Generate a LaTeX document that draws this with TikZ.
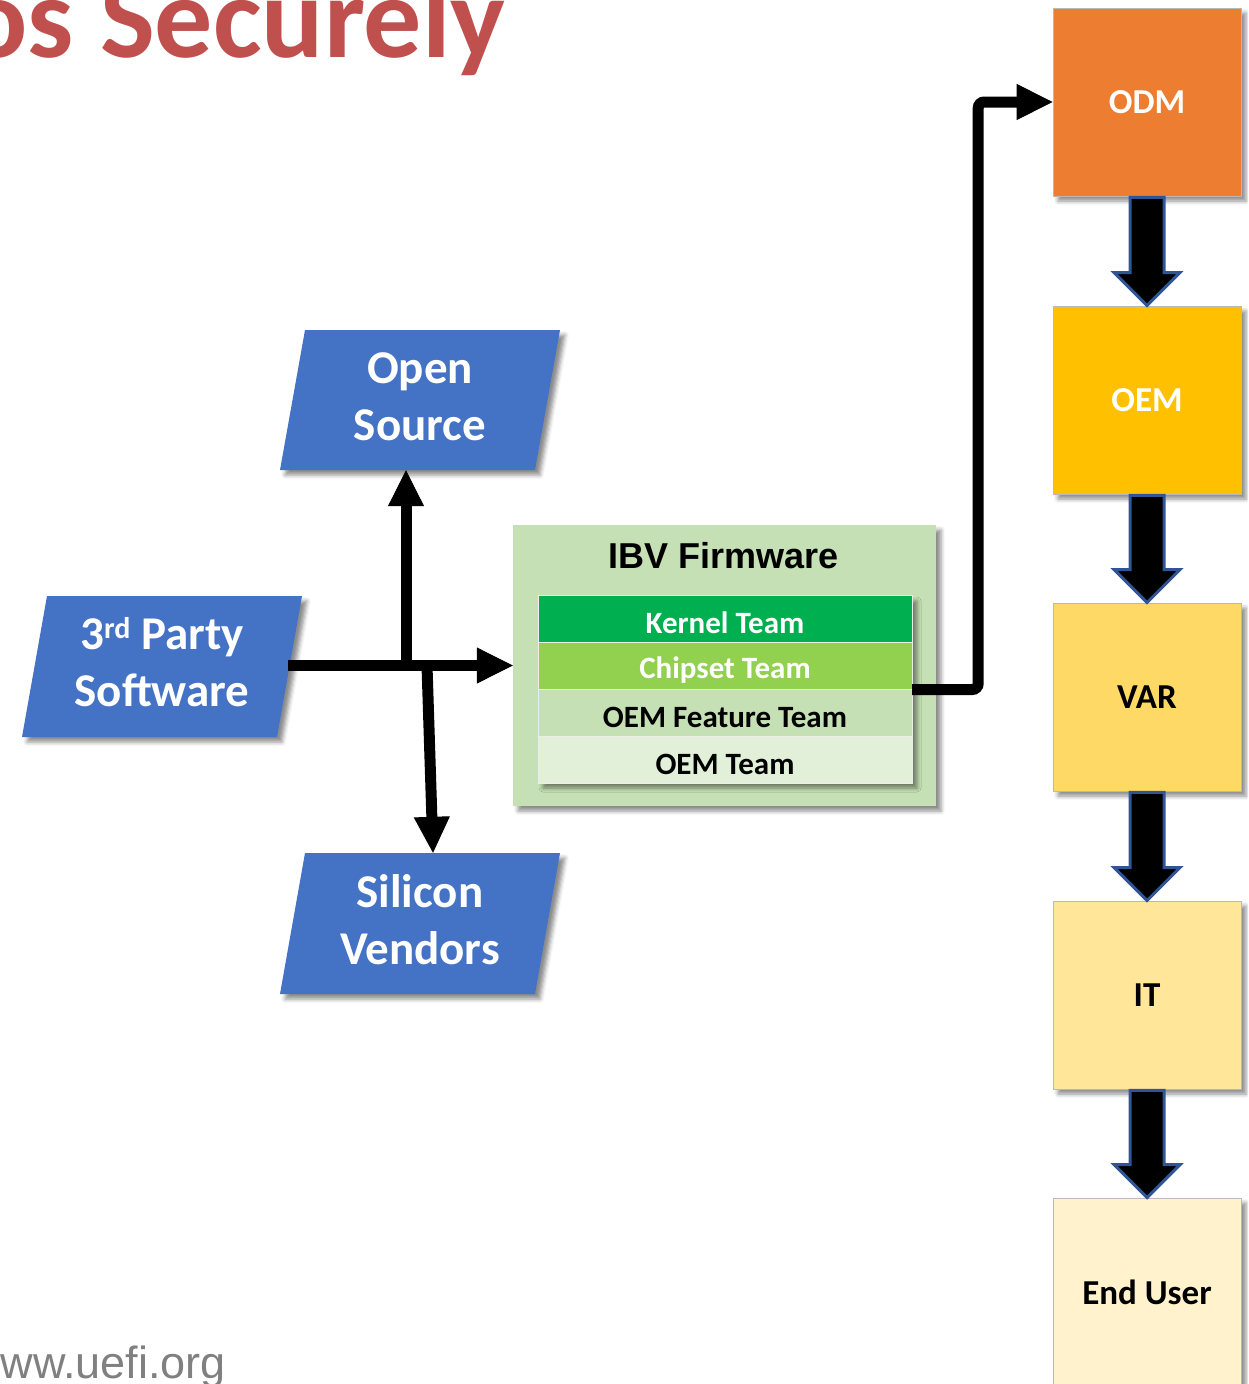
\documentclass[tikz,border=0pt]{standalone}
\usepackage{fontspec}
\setmainfont{Carlito}
\newfontfamily\arialfont{Liberation Sans}
\usetikzlibrary{arrows.meta,calc,shadows.blur}
\definecolor{titlered}{HTML}{C0504D}
\definecolor{urlgray}{HTML}{808080}
\definecolor{pblue}{HTML}{4472C4}
\definecolor{ibvgreen}{HTML}{C5E0B4}
\definecolor{kgreen}{HTML}{00B050}
\definecolor{cgreen}{HTML}{92D050}
\definecolor{ofgreen}{HTML}{C5E0B4}
\definecolor{otgreen}{HTML}{E2F0D9}
\definecolor{odmc}{HTML}{ED7D31}
\definecolor{oemc}{HTML}{FFC000}
\definecolor{varc}{HTML}{FFD966}
\definecolor{itc}{HTML}{FFE699}
\definecolor{euc}{HTML}{FFF2CC}
\definecolor{barrow}{HTML}{2F5597}
\begin{document}
\begin{tikzpicture}[x=1pt,y=-1pt,
  softshadow/.style={blur shadow={shadow xshift=5pt,shadow yshift=-5pt,shadow blur radius=4pt,shadow opacity=45}},
  pshape/.style={fill=pblue, softshadow},
  pbox/.style={minimum width=255pt, minimum height=140pt, inner sep=0pt},
  ptext/.style={font=\bfseries\fontsize{47}{57}\selectfont, text=white, align=center, inner sep=0pt},
  rbox/.style={minimum width=188pt, minimum height=188pt, draw=gray!55, line width=0.8pt, inner sep=0pt,
    font=\bfseries\fontsize{35}{35}\selectfont, softshadow},
  rowbox/.style={minimum width=374pt, minimum height=47pt, inner sep=0pt, draw=white!85!gray, line width=0.8pt},
  rowtext/.style={font=\bfseries\fontsize{31}{31}\selectfont, inner sep=0pt},
  conn/.style={draw=black, line width=11pt, -{Triangle[length=36pt,width=36pt,line width=1pt,color=black,fill=black]}},
  blockarrow/.style={fill=black, draw=barrow, line width=3pt, line join=miter}
]
\useasboundingbox (0,0) rectangle (1248,1384);
\clip (0,0) rectangle (1248,1384);

% title and footer
\node[anchor=base east, font=\bfseries\fontsize{116}{116}\selectfont, text=titlered, inner sep=0pt] (title) at (506,57) {os Securely};
\node[anchor=base east, font=\arialfont\fontsize{45}{45}\selectfont, text=urlgray, inner sep=0pt] (url) at (226,1378) {ww.uefi.org};

% parallelograms
\fill[pshape] (280,470) -- (305,330) -- (560,330) -- (535,470) -- cycle;
\fill[pshape] (22,737) -- (47,596) -- (302,596) -- (277,737) -- cycle;
\fill[pshape] (280,994) -- (305,853) -- (560,853) -- (535,994) -- cycle;
\node[pbox] (open) at (420,400) {};
\node[pbox] (party) at (162,666.5) {};
\node[pbox] (sil) at (420,923) {};
\node[ptext] (opent) at (420,397) {Open\\Source};
\node[ptext] (partyt) at (162,662) {3\raisebox{0.5ex}{\fontsize{30}{30}\selectfont rd} Party\\Software};
\node[ptext] (silt) at (420,920) {Silicon\\Vendors};

% IBV firmware
\node[fill=ibvgreen, minimum width=423pt, minimum height=281pt, inner sep=0pt, softshadow] (ibv) at (724.5,665.5) {};
\node[font=\arialfont\bfseries\fontsize{36}{36}\selectfont, inner sep=0pt] (ibvt) at (724,556) {IBV Firmware};
\node[fill=white, minimum width=374pt, minimum height=187pt, inner sep=0pt, softshadow] (stack) at (725,689.5) {};
\node[rowbox, fill=kgreen] (kern) at (725,619) {};
\node[rowbox, fill=cgreen] (chip) at (725,665.5) {};
\node[rowbox, fill=ofgreen] (oemf) at (725,712.5) {};
\node[rowbox, fill=otgreen] (oemt) at (725,759.5) {};
\node[rowtext, text=white] (kernt) at ($(kern)+(0,4)$) {Kernel Team};
\node[rowtext, text=white] (chipt) at ($(chip)+(0,5)$) {Chipset Team};
\node[rowtext] (oemft) at ($(oemf)+(0,5)$) {OEM Feature Team};
\node[rowtext] (oemtt) at ($(oemt)+(0,5)$) {OEM Team};

% right column
\node[rbox, fill=odmc, text=white] (odm) at (1147,102) {ODM};
\node[rbox, fill=oemc, text=white] (oem) at (1147,400) {OEM};
\node[rbox, fill=varc] (var) at (1147,697) {VAR};
\node[rbox, fill=itc] (it) at (1147,995) {IT};
\node[rbox, fill=euc] (eu) at (1147,1292) {End User};

% block arrows
\foreach \a/\b in {odm/oem, oem/var, var/it, it/eu}{
  \draw[blockarrow] ($(\a.south)+(-17,1)$) -- ($(\b.north)+(-17,-33)$) -- ($(\b.north)+(-33,-33)$)
    -- ($(\b.north)+(0,0)$) -- ($(\b.north)+(33,-33)$) -- ($(\b.north)+(17,-33)$) -- ($(\a.south)+(17,1)$) -- cycle;
}

% connectors
\coordinate (partyR) at (288,665.5);
\coordinate (j1) at (406,665.5);
\coordinate (j2) at (427,665.5);
\draw[conn] (partyR) -- (ibv.west);
\draw[conn] (j1) -- (j1 |- open.south);
\draw[conn] (j2) -- ($(sil.north)+(13,0)$);
\draw[conn, rounded corners=6pt] (stack.east) -- ++(66,0) |- (odm.west);
\end{tikzpicture}
\end{document}
